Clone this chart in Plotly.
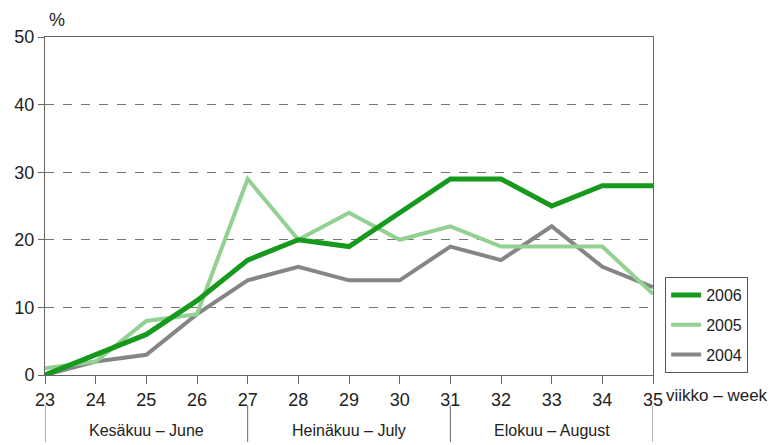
import plotly.graph_objects as go

weeks = list(range(23, 36))
y2006 = [0, 3, 6, 11, 17, 20, 19, 24, 29, 29, 25, 28, 28]
y2005 = [1, 2, 8, 9, 29, 20, 24, 20, 22, 19, 19, 19, 12]
y2004 = [0, 2, 3, 9, 14, 16, 14, 14, 19, 17, 22, 16, 13]
series_names = ["2006", "2005", "2004"]
month_bounds = [23, 27, 31, 35]
month_labels = ["Kesäkuu – June", "Heinäkuu – July", "Elokuu – August"]

FONT = "Liberation Sans Narrow, Liberation Sans, Arial, sans-serif"
colors = ["#16991c", "#92d192", "#858585"]
widths = [5, 4, 4]

fig = go.Figure()
traces = []
for rank, (name, ys, c, w) in enumerate(zip(series_names, [y2006, y2005, y2004], colors, widths)):
    traces.append(go.Scatter(x=weeks, y=ys, mode="lines", name=name, legendgroup=name,
                             legendrank=rank + 1, line=dict(color=c, width=w)))
# draw order: 2004 bottom, 2005, 2006 top
for t in reversed(traces):
    fig.add_trace(t)

axis_col = "#666666"
fig.update_xaxes(range=[23, 35], tickmode="array", tickvals=weeks,
                 ticktext=[str(w) for w in weeks], showline=True, linecolor=axis_col,
                 linewidth=1, mirror=True, ticks="outside", ticklen=8, tickcolor=axis_col,
                 showgrid=False, zeroline=False, automargin=False,
                 tickfont=dict(size=18, color="#222"))
fig.update_yaxes(range=[0, 50], dtick=10, showline=True, linecolor=axis_col, linewidth=1,
                 mirror=True, ticks="outside", ticklen=6, tickcolor=axis_col,
                 showgrid=True, gridcolor="#777777", griddash="dash", gridwidth=1,
                 zeroline=False, automargin=False, tickfont=dict(size=18, color="#222"))

for b in month_bounds:
    fig.add_shape(type="line", xref="x", yref="paper", x0=b, x1=b, y0=-0.09, y1=-0.198,
                  line=dict(color=axis_col, width=1))
for i, lab in enumerate(month_labels):
    fig.add_annotation(x=(month_bounds[i] + month_bounds[i + 1]) / 2, xref="x",
                       y=-0.163, yref="paper", text=lab, showarrow=False,
                       font=dict(size=16, color="#222"), yanchor="middle")

fig.add_annotation(x=0.003, xref="paper", y=1.05, yref="paper", text="%",
                   showarrow=False, xanchor="left", yanchor="middle",
                   font=dict(size=18, color="#222"))
fig.add_annotation(x=1.018, xref="paper", y=-0.06, yref="paper", text="viikko – week",
                   showarrow=False, xanchor="left", yanchor="middle",
                   font=dict(size=17, color="#222"))

fig.update_layout(
    width=776, height=437,
    margin=dict(l=37, r=131, t=29, b=70),
    paper_bgcolor="white", plot_bgcolor="white",
    font=dict(family=FONT, color="#222"),
    legend=dict(x=1.02, y=0.29, xanchor="left", yanchor="top",
                bordercolor="#555555", borderwidth=1, bgcolor="white",
                traceorder="grouped", itemwidth=30, tracegroupgap=6,
                font=dict(size=16)),
    showlegend=True,
)

fig.write_html("out.html")
